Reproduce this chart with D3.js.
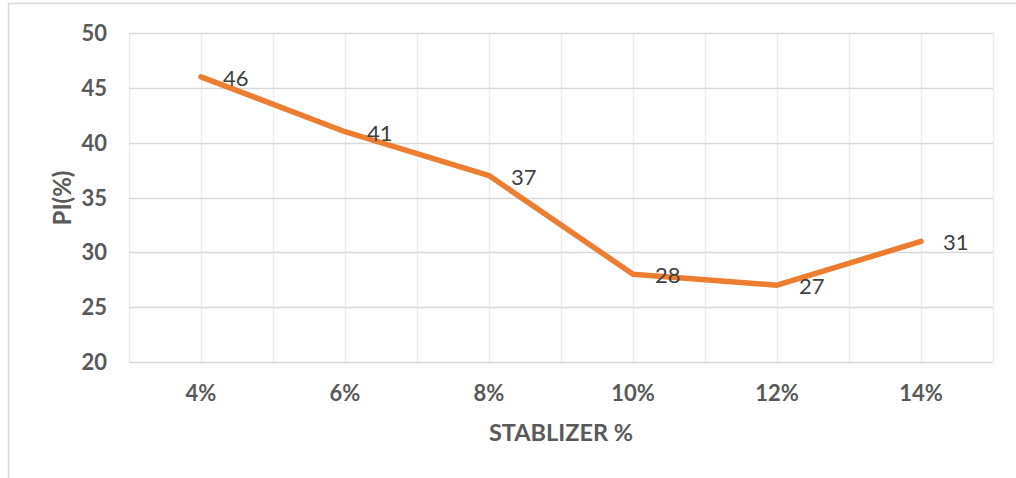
<!DOCTYPE html>
<html>
<head>
<meta charset="utf-8">
<script src="https://cdn.jsdelivr.net/npm/d3@7"></script>
<style>
  html, body { margin: 0; padding: 0; background: #fff; }
  svg { display: block; }
</style>
</head>
<body>
<svg id="chart" width="1016" height="478"></svg>
<script>
// Plasticity index against stabilizer content
const categories = ["4%", "6%", "8%", "10%", "12%", "14%"];
const piValues = [46, 41, 37, 28, 27, 31];
const yTicks = [20, 25, 30, 35, 40, 45, 50];
const xTitle = "STABLIZER %";
const yTitle = "PI(%)";

const svg = d3.select("#chart");
const font = "Lato, 'Open Sans', 'Liberation Sans', sans-serif";

const plot = { left: 129, right: 993, top: 33, bottom: 362 };

const x = d3.scaleBand().domain(categories).range([plot.left, plot.right]);
const y = d3.scaleLinear().domain([20, 50]).range([plot.bottom, plot.top]);
const cx = c => x(c) + x.bandwidth() / 2;

// chart frame (only left and top edges fall inside the view)
svg.append("rect")
  .attr("x", 8.5).attr("y", 3.5)
  .attr("width", 1100).attr("height", 600)
  .attr("fill", "none").attr("stroke", "#D9D9D9").attr("stroke-width", 1.5);

// vertical gridlines at category edges and centres
const vLines = [];
categories.forEach(c => { vLines.push(x(c)); vLines.push(cx(c)); });
vLines.push(plot.right);
svg.append("g").selectAll("line").data(vLines).join("line")
  .attr("x1", d => Math.round(d) + 0.5).attr("x2", d => Math.round(d) + 0.5)
  .attr("y1", plot.top).attr("y2", plot.bottom)
  .attr("stroke", "#EBEBEB").attr("stroke-width", 1.3);

// horizontal gridlines
svg.append("g").selectAll("line").data(yTicks).join("line")
  .attr("x1", plot.left).attr("x2", plot.right)
  .attr("y1", d => Math.round(y(d)) + 0.5).attr("y2", d => Math.round(y(d)) + 0.5)
  .attr("stroke", "#D9D9D9").attr("stroke-width", 1.3);

// y tick labels
svg.append("g").selectAll("text").data(yTicks).join("text")
  .attr("x", 107).attr("y", d => y(d) + 8)
  .attr("text-anchor", "end")
  .attr("font-family", font).attr("font-weight", "bold").attr("font-size", 22)
  .attr("fill", "#595959")
  .text(d => d);

// x tick labels
svg.append("g").selectAll("text").data(categories).join("text")
  .attr("x", d => cx(d)).attr("y", 401)
  .attr("text-anchor", "middle")
  .attr("font-family", font).attr("font-weight", "bold").attr("font-size", 22)
  .attr("fill", "#595959")
  .text(d => d);

// axis titles
svg.append("text")
  .attr("x", (plot.left + plot.right) / 2).attr("y", 441)
  .attr("text-anchor", "middle")
  .attr("font-family", font).attr("font-weight", "bold").attr("font-size", 23.5)
  .attr("fill", "#595959")
  .text(xTitle);

svg.append("text")
  .attr("transform", "translate(71,198) rotate(-90)")
  .attr("text-anchor", "middle")
  .attr("font-family", font).attr("font-weight", "bold").attr("font-size", 24)
  .attr("fill", "#595959")
  .text(yTitle);

// series line
const pts = categories.map((c, i) => ({ c, v: piValues[i] }));
const line = d3.line().x(d => cx(d.c)).y(d => y(d.v));
svg.append("path")
  .datum(pts)
  .attr("d", line)
  .attr("fill", "none")
  .attr("stroke", "#ED7D31")
  .attr("stroke-width", 5.5)
  .attr("stroke-linejoin", "round")
  .attr("stroke-linecap", "round");

// value labels to the right of each point
svg.append("g").selectAll("text").data(pts).join("text")
  .attr("x", d => cx(d.c) + 22).attr("y", d => y(d.v) + 9)
  .attr("font-family", font).attr("font-size", 22)
  .attr("fill", "#404040")
  .text(d => d.v);
</script>
</body>
</html>
